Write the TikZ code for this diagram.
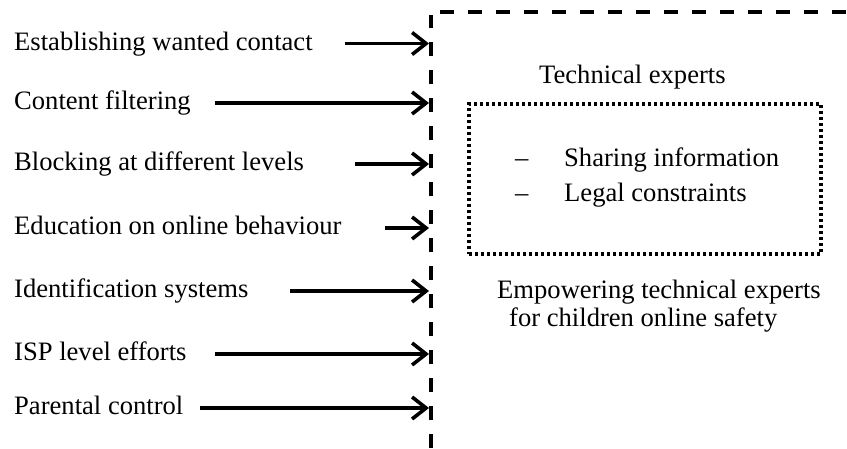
\documentclass[tikz,border=0pt]{standalone}
\usepackage{fontspec}
\setmainfont{Liberation Serif}
\usetikzlibrary{arrows.meta}
\begin{document}
\begin{tikzpicture}[x=1pt,y=-1pt,
  lbl/.style={anchor=base west,inner sep=0pt,font=\fontsize{26.6}{28}\selectfont},
  feed/.style={line width=3.6pt,-{Straight Barb[length=14pt,width=22pt]}},
  border/.style={line width=3.6pt,dash pattern=on 14pt off 14pt},
  dotbox/.style={line width=3.6pt,dash pattern=on 3pt off 3pt}]
\useasboundingbox (0,0) rectangle (847,448);
% dashed border of the right part
\coordinate (vb) at (431,448);
\coordinate (vt) at (431,15);
\coordinate (ht) at (440,12);
\coordinate (hr) at (847,12);
\draw[border] (vb) -- (vt);
\draw[border] (ht) -- (hr);
% left labels
\node[lbl] (l1) at (14,50) {Establishing wanted contact};
\node[lbl] (l2) at (14,109) {Content filtering};
\node[lbl] (l3) at (14,170) {Blocking at different levels};
\node[lbl] (l4) at (14,234) {Education on online behaviour};
\node[lbl] (l5) at (14,297) {Identification systems};
\node[lbl] (l6) at (14,360) {ISP level efforts};
\node[lbl] (l7) at (14,414) {Parental control};
% arrows
\coordinate (s1) at (345,43.5); \coordinate (e1) at (429,43.5);
\coordinate (s2) at (215,103);  \coordinate (e2) at (429,103);
\coordinate (s3) at (355,164);  \coordinate (e3) at (429,164);
\coordinate (s4) at (385,228);  \coordinate (e4) at (429,228);
\coordinate (s5) at (290,291);  \coordinate (e5) at (429,291);
\coordinate (s6) at (215,354);  \coordinate (e6) at (429,354);
\coordinate (s7) at (200,408);  \coordinate (e7) at (429,408);
\foreach \i in {1,...,7} \draw[feed] (s\i) -- (e\i);
% right part
\node[lbl] (te) at (539,83) {Technical experts};
\node[draw,dotbox,minimum width=352pt,minimum height=150pt,anchor=north west,inner sep=0pt] (box) at (467,102) {};
\node[lbl] (d1) at (515,166) {–};
\node[lbl] (t1) at (564,166) {Sharing information};
\node[lbl] (d2) at (515,201) {–};
\node[lbl] (t2) at (564,201) {Legal constraints};
\node[lbl] (em1) at (497,298) {Empowering technical experts};
\node[lbl] (em2) at (509,326) {for children online safety};
\end{tikzpicture}
\end{document}
